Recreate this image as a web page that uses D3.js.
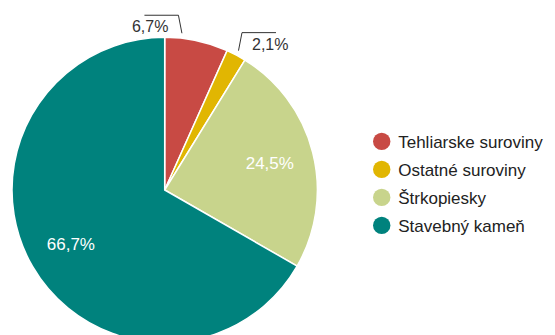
<!DOCTYPE html>
<html><head><meta charset="utf-8">
<script src="https://cdn.jsdelivr.net/npm/d3@7"></script>
<style>body{margin:0;background:#fff;}</style>
</head><body>
<svg id="c" width="555" height="335" style="display:block"></svg>
<script>
const categories = ["Tehliarske suroviny","Ostatné suroviny","Štrkopiesky","Stavebný kameň"];
const values = [6.7, 2.1, 24.5, 66.7];
const labels = ["6,7%","2,1%","24,5%","66,7%"];
const colors = ["#c84a44","#e1b602","#c8d48c","#00827d"];
// outside labels: fraction of slice where leader starts, horizontal direction (-1 left, 1 right)
const outside = [{frac:0.26, dir:-1}, {frac:0.5, dir:1}, null, null];
const FONT = "'Liberation Sans', Arial, Helvetica, sans-serif";

const svg = d3.select("#c");
const cx = 164.7, cy = 190, r = 152.7;
const g = svg.append("g").attr("transform",`translate(${cx},${cy})`);
const pie = d3.pie().sort(null).value(d=>d)(values);
const arc = d3.arc().innerRadius(0).outerRadius(r);
g.selectAll("path").data(pie).join("path")
  .attr("d",arc).attr("fill",(d,i)=>colors[i])
  .attr("stroke","#fff").attr("stroke-width",1.5);

const fs = 17;
pie.forEach((d,i)=>{
  const o = outside[i];
  if(!o){
    const a=(d.startAngle+d.endAngle)/2, rr=r*0.71;
    g.append("text").attr("x",rr*Math.sin(a)).attr("y",-rr*Math.cos(a))
     .attr("text-anchor","middle").attr("dominant-baseline","central")
     .attr("font-family",FONT)
     .attr("fill","#fff").attr("font-size",fs).text(labels[i]);
  } else {
    const a=d.startAngle+(d.endAngle-d.startAngle)*o.frac;
    const px=(r+5)*Math.sin(a), py=-(r+5)*Math.cos(a);
    const ex=px+o.dir*3.5, ey=py-18;
    const hx=ex+o.dir*34;
    g.append("path").attr("d",`M${px},${py}L${ex},${ey}L${hx},${ey}`)
     .attr("fill","none").attr("stroke","#333").attr("stroke-width",1);
    g.append("text").attr("x",ex+o.dir*10).attr("y",ey+17)
     .attr("text-anchor",o.dir<0?"end":"start").attr("fill","#333")
     .attr("font-family",FONT)
     .attr("font-size",fs-1).text(labels[i]);
  }
});

const lg = svg.append("g").attr("transform","translate(381.7,141.4)");
const item = lg.selectAll("g").data(categories).join("g")
  .attr("transform",(d,i)=>`translate(0,${i*28})`);
item.append("circle").attr("r",8.7).attr("fill",(d,i)=>colors[i]);
item.append("text").attr("x",16.5).attr("dy","0.36em").attr("font-size",17)
  .attr("font-family",FONT).attr("fill","#222").text(d=>d);
</script>
</body></html>
